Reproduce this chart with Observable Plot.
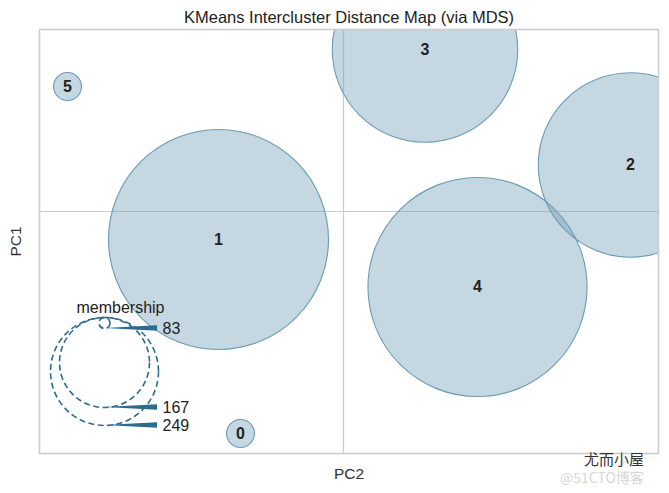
<!DOCTYPE html>
<html><head><meta charset="utf-8">
<script src="https://cdn.jsdelivr.net/npm/d3@7"></script>
<script src="https://cdn.jsdelivr.net/npm/@observablehq/plot@0.6"></script>
<style>
body{margin:0;background:#fff;}
#wrap{position:relative;width:669px;height:493px;font-family:"Liberation Sans",Arial,sans-serif;overflow:hidden;}
#wrap svg{position:absolute;left:0;top:0;}
.wm1{position:absolute;left:584px;top:451px;font-family:"Noto Sans CJK SC",sans-serif;font-size:15px;line-height:15px;height:15px;color:#333;text-shadow:0 0 2px #fff;}
.wm2{position:absolute;left:560px;top:470px;font-family:"Noto Sans CJK SC",sans-serif;font-size:14px;line-height:14px;height:14px;color:#d6d6d6;}
</style></head><body><div id="wrap"></div>
<script>
// cluster data (MDS embedding coordinates and membership counts)
const clusterIds = [0, 1, 2, 3, 4, 5];
const pc2 = [-1.03, -1.25, 2.87, 0.815, 1.34, -2.76];
const pc1 = [-2.22, -0.28, 0.465, 1.62, -0.755, 1.25];
const membership = [4, 249, 175, 177, 247, 4];
// size legend
const legendSizes = [83, 167, 249];
const legendTitle = "membership";
const titleText = "KMeans Intercluster Distance Map (via MDS)";
const xLabel = "PC2";
const yLabel = "PC1";

const clusters = clusterIds.map((id, i) => ({id, x: pc2[i], y: pc1[i], size: membership[i]}));

const W = 669, H = 493;
const font = '"Liberation Sans", Arial, sans-serif';
const fillC = "#6f9db6", edgeC = "#6a9bb5", legC = "#2b6c8f";

const main = Plot.plot({
  width: W, height: H,
  marginLeft: 39, marginRight: 11, marginTop: 29, marginBottom: 40,
  x: {domain: [-3.04, 3.15], axis: null},
  y: {domain: [-2.42, 1.82], axis: null},
  r: {type: "sqrt", domain: [0, 249], range: [0, 110]},
  style: {fontFamily: font, background: "white"},
  marks: [
    Plot.ruleX([0], {stroke: "#cccccc", strokeWidth: 1.2}),
    Plot.ruleY([0], {stroke: "#cccccc", strokeWidth: 1.2}),
    Plot.dot(clusters, {x: "x", y: "y", r: "size", fill: fillC, fillOpacity: 0.4,
      stroke: edgeC, strokeOpacity: 1, strokeWidth: 1.1, clip: true}),
    Plot.text(clusters, {x: "x", y: "y", text: d => String(d.id), fontWeight: "bold",
      fontSize: 16, fill: "#222"}),
    Plot.frame({stroke: "#cccccc", strokeWidth: 1.6}),
    Plot.text([titleText], {frameAnchor: "top", dy: -12, lineAnchor: "middle", textAnchor: "middle", fontSize: 16.5, fill: "#222"}),
    Plot.text([xLabel], {frameAnchor: "bottom", dy: 21, lineAnchor: "middle", textAnchor: "middle", fontSize: 15.5, fill: "#333"}),
    Plot.text([yLabel], {frameAnchor: "left", dx: -23, rotate: -90, lineAnchor: "middle", textAnchor: "middle", fontSize: 15.5, fill: "#333"})
  ]
});

// legend overlay (pixel-space layout)
const rOpts = {type: "linear", domain: [83, 167, 249], range: [5.5, 45, 54]};
let rFn;
try { const rs = Plot.scale({r: rOpts}); rFn = v => rs.apply(v); }
catch (e) { rFn = d3.scaleLinear(rOpts.domain, rOpts.range); }
const legCx = 104, legTop = 317, wedgeEnd = 157, halfW = 2.8;
const legendRows = legendSizes.map(s => ({s, cy: legTop + rFn(s), b: legTop + 2 * rFn(s)}));
const wedges = legendRows.flatMap(d => [
  {s: d.s, x: legCx, y1: d.b, y2: d.b},
  {s: d.s, x: wedgeEnd, y1: d.b - halfW, y2: d.b + halfW}
]);

const legend = Plot.plot({
  width: W, height: H, margin: 0,
  x: {domain: [0, W], range: [0, W], axis: null},
  y: {domain: [0, H], range: [0, H], axis: null},
  r: rOpts,
  style: {fontFamily: font, background: "transparent", pointerEvents: "none"},
  marks: [
    Plot.dot(legendRows, {x: () => legCx, y: "cy", r: "s", fill: "none", stroke: legC,
      strokeWidth: 1.6, strokeDasharray: "6,3.5"}),
    Plot.area(wedges, {x1: "x", y1: "y1", y2: "y2", z: "s", fill: legC}),
    Plot.text(legendRows, {x: () => wedgeEnd + 5, y: "b", text: d => String(d.s), textAnchor: "start",
      lineAnchor: "middle", fontSize: 16, fill: "#222"}),
    Plot.text([legendTitle], {x: () => legCx + 16, y: () => legTop - 10, textAnchor: "middle", lineAnchor: "middle", fontSize: 16, fill: "#222"})
  ]
});

const wrap = document.getElementById("wrap");
wrap.appendChild(main);
wrap.appendChild(legend);
const w1 = document.createElement("div"); w1.className = "wm1"; w1.textContent = "尤而小屋"; wrap.appendChild(w1);
const w2 = document.createElement("div"); w2.className = "wm2"; w2.textContent = "@51CTO博客"; wrap.appendChild(w2);
</script>
</body></html>
